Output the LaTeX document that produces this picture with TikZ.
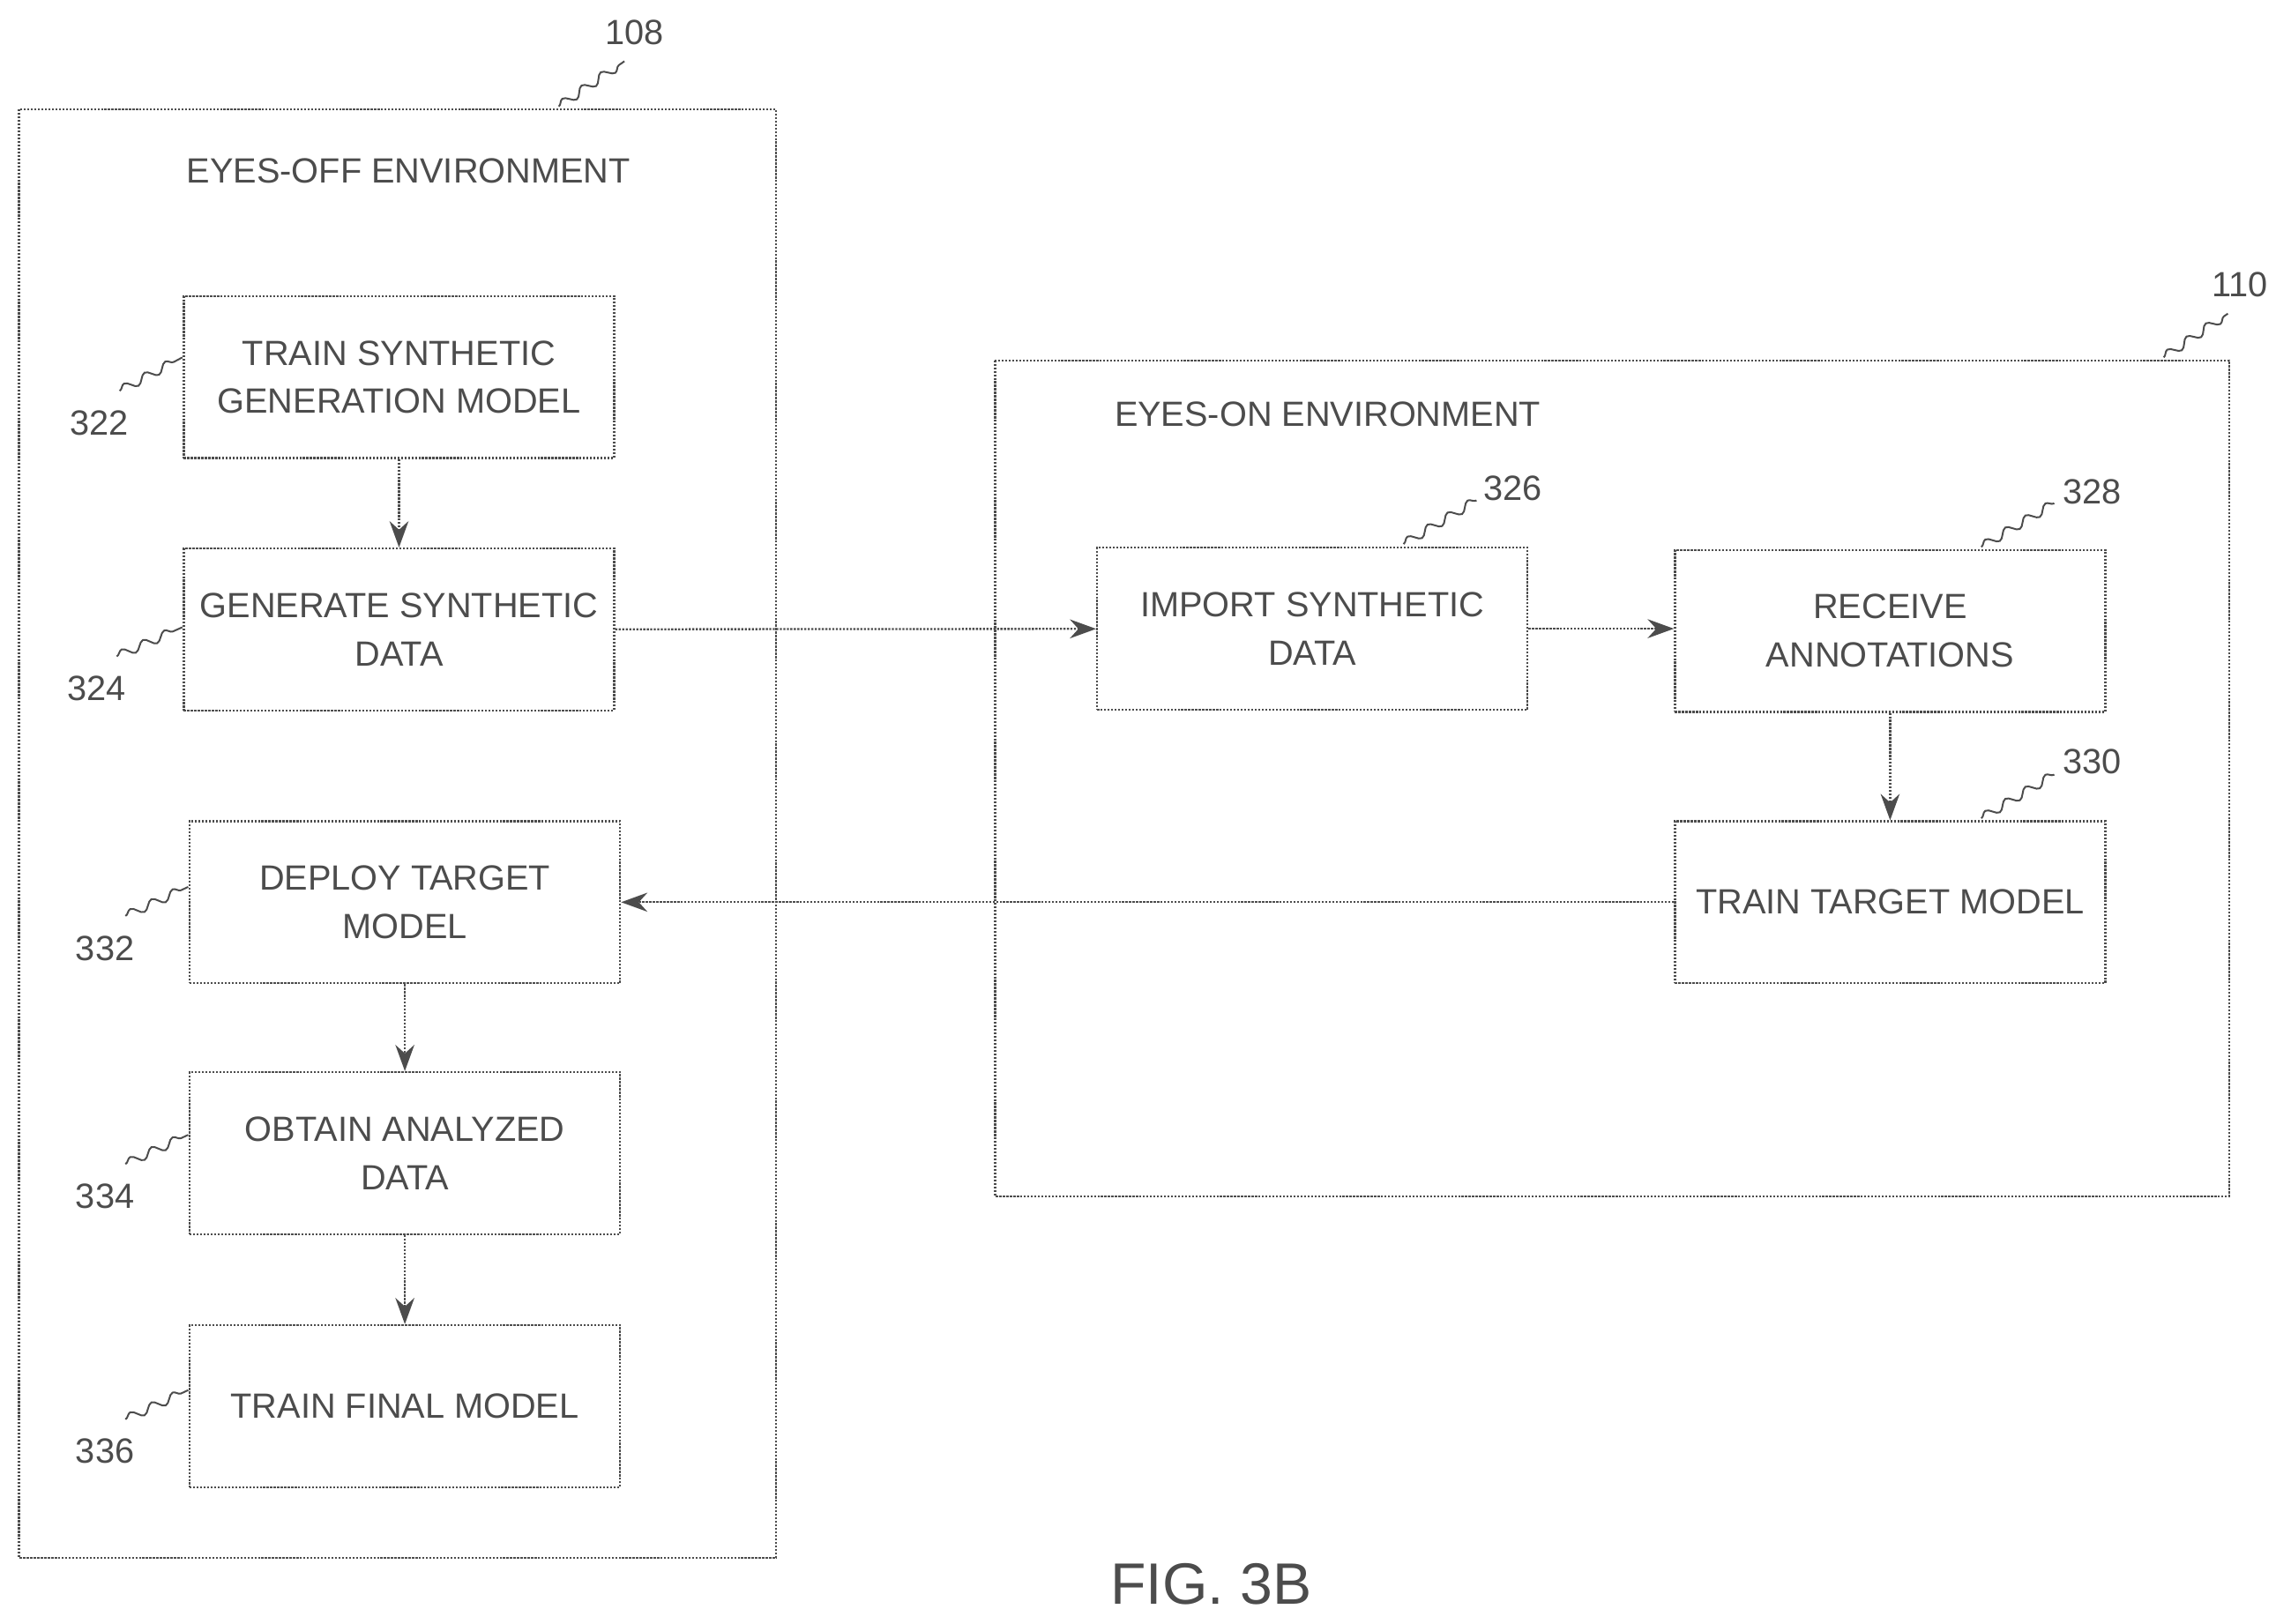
\documentclass[tikz,border=0pt]{standalone}
\usepackage{fontspec}
\setmainfont{Liberation Sans}
\usetikzlibrary{arrows.meta,decorations.pathmorphing}
\begin{document}
\begin{tikzpicture}[x=1pt,y=-1pt,
  ln/.style={draw=black!70,line width=1.4pt,densely dotted},
  box/.style={ln,minimum width=295pt,minimum height=111pt,align=center,font=\fontsize{24}{33}\selectfont,text=black!70,inner sep=0pt},
  txt/.style={font=\fontsize{24}{33}\selectfont,text=black!70,inner sep=0pt},
  arr/.style={ln,-{Stealth[length=18pt,width=13pt]}},
  sq/.style={draw=black!70,line width=1.2pt,decorate,decoration={snake,amplitude=3pt,segment length=16pt}}]
\useasboundingbox (0,0) rectangle (1560,1113);
\draw[ln] (13,75) rectangle (532,1068);
\draw[ln] (682,247) rectangle (1528,820);
\node[txt] at (280,117) {EYES-OFF ENVIRONMENT};
\node[txt] at (910,284) {EYES-ON ENVIRONMENT};
\node[txt] (l108) at (435,22) {108};
\node[txt] (l110) at (1535,195) {110};
\draw[sq] (383,73) -- (428,42);
\draw[sq] (1483,245) -- (1527,215);
\node[box] (b322) at (273.5,258.5) {TRAIN SYNTHETIC\\GENERATION MODEL};
\node[box] (b324) at (273.5,431.5) {GENERATE SYNTHETIC\\DATA};
\node[box] (b332) at (277.5,618.5) {DEPLOY TARGET\\MODEL};
\node[box] (b334) at (277.5,790.5) {OBTAIN ANALYZED\\DATA};
\node[box] (b336) at (277.5,964) {TRAIN FINAL MODEL};
\node[box] (b326) at (899.5,431) {IMPORT SYNTHETIC\\DATA};
\node[box] (b328) at (1295.5,432.5) {RECEIVE\\ANNOTATIONS};
\node[box] (b330) at (1295.5,618.5) {TRAIN TARGET MODEL};
\node[txt] (l322) at (68,290) {322};
\node[txt] (l324) at (66,472) {324};
\node[txt] (l332) at (72,650) {332};
\node[txt] (l334) at (72,820) {334};
\node[txt] (l336) at (72,995) {336};
\node[txt] (l326) at (1037,335) {326};
\node[txt] (l328) at (1434,337) {328};
\node[txt] (l330) at (1434,522) {330};
\draw[sq] (82,268) -- (125,245);
\draw[sq] (80,450) -- (125,430);
\draw[sq] (86,628) -- (129,608);
\draw[sq] (86,798) -- (129,778);
\draw[sq] (86,973) -- (129,953);
\draw[sq] (962,373) -- (1012,343);
\draw[sq] (1358,375) -- (1408,345);
\draw[sq] (1358,561) -- (1408,531);
\draw[arr] (b322) -- (b324);
\draw[arr] (b332) -- (b334);
\draw[arr] (b334) -- (b336);
\draw[arr] (b324) -- (b326);
\draw[arr] (b326.east) -- (b328.west|-b326.east);
\draw[arr] (b328) -- (b330);
\draw[arr] (b330.west|-b332.east) -- (b332.east);
\node[txt,font=\fontsize{40}{48}\selectfont] (fig) at (830,1086) {FIG. 3B};
\end{tikzpicture}
\end{document}
